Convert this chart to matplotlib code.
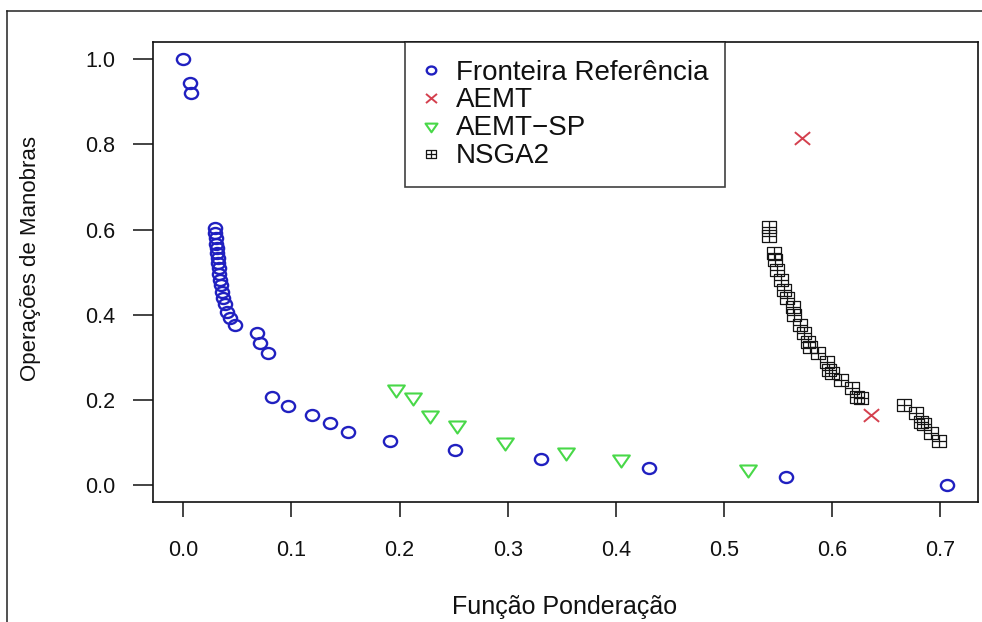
import matplotlib
matplotlib.use("Agg")
import matplotlib.pyplot as plt
from matplotlib.path import Path
from matplotlib.lines import Line2D

plt.rcParams["font.family"] = ["Liberation Sans", "DejaVu Sans"]

# ---- data -------------------------------------------------------------
ref_x = [0.0, 0.0061, 0.0070,
         0.0293, 0.0293, 0.0299, 0.0302, 0.0308, 0.0315, 0.0318, 0.0324,
         0.0330, 0.0333, 0.0339, 0.0345, 0.0361, 0.0370, 0.0385, 0.0401,
         0.0431, 0.0477,
         0.0678, 0.0708, 0.0786,
         0.0816, 0.0970, 0.1186, 0.1355, 0.1524, 0.1909, 0.2509, 0.3310,
         0.4310, 0.5575, 0.7065]
ref_y = [1.0, 0.944, 0.920,
         0.604, 0.591, 0.580, 0.565, 0.556, 0.544, 0.533, 0.521,
         0.509, 0.495, 0.482, 0.470, 0.454, 0.439, 0.424, 0.407,
         0.392, 0.376,
         0.356, 0.333, 0.311,
         0.206, 0.186, 0.164, 0.145, 0.125, 0.103, 0.082, 0.061,
         0.039, 0.0195, 0.0]

aemt_x = [0.5717, 0.6356]
aemt_y = [0.814, 0.164]

sp_x = [0.1970, 0.2125, 0.2278, 0.2534, 0.2970, 0.3540, 0.4048, 0.5218]
sp_y = [0.225, 0.206, 0.164, 0.142, 0.102, 0.078, 0.061, 0.037]

nsga_x = [0.5417, 0.5417, 0.5460, 0.5471, 0.5490, 0.5526, 0.5556, 0.5581,
          0.5633, 0.5648, 0.5703, 0.5740, 0.5772, 0.5796, 0.5864, 0.5950,
          0.5971, 0.6002, 0.6079, 0.6185, 0.6231, 0.6268,
          0.6664, 0.6772, 0.6818, 0.6849, 0.6910, 0.6987]
nsga_y = [0.607, 0.585, 0.544, 0.529, 0.505, 0.482, 0.458, 0.439,
          0.419, 0.399, 0.376, 0.356, 0.337, 0.325, 0.309, 0.290,
          0.270, 0.262, 0.247, 0.227, 0.207, 0.204,
          0.188, 0.168, 0.149, 0.143, 0.121, 0.104]

series_names = ["Fronteira Referência", "AEMT", "AEMT\u2212SP", "NSGA2"]
x_ticks = [0.0, 0.1, 0.2, 0.3, 0.4, 0.5, 0.6, 0.7]
y_ticks = [0.0, 0.2, 0.4, 0.6, 0.8, 1.0]
x_tick_labels = ["0.0", "0.1", "0.2", "0.3", "0.4", "0.5", "0.6", "0.7"]
y_tick_labels = ["0.0", "0.2", "0.4", "0.6", "0.8", "1.0"]

# ---- marker shapes (slightly wide, like the R symbols) -----------------
WIDE = 1.2


def widen(verts, codes=None):
    return Path([(x * WIDE, y) for x, y in verts], codes)


circle_path = Path(Path.unit_circle().vertices * [WIDE, 1.0],
                   Path.unit_circle().codes)
tri_down = widen([(-0.866, 0.5), (0.866, 0.5), (0.0, -1.0), (-0.866, 0.5)],
                 [Path.MOVETO, Path.LINETO, Path.LINETO, Path.CLOSEPOLY])
square_plus = widen([(-1, -1), (1, -1), (1, 1), (-1, 1), (-1, -1),
                     (-1, 0), (1, 0), (0, -1), (0, 1)],
                    [Path.MOVETO, Path.LINETO, Path.LINETO, Path.LINETO,
                     Path.CLOSEPOLY, Path.MOVETO, Path.LINETO,
                     Path.MOVETO, Path.LINETO])
cross = widen([(-1, -1), (1, 1), (-1, 1), (1, -1)],
              [Path.MOVETO, Path.LINETO, Path.MOVETO, Path.LINETO])

BLUE = "#2020c0"
RED = "#d4404e"
GREEN = "#48d848"
BLACK = "#151515"

styles = [
    dict(marker=circle_path, color=BLUE, ms=9.5, mew=1.7),
    dict(marker=cross, color=RED, ms=11, mew=1.4),
    dict(marker=tri_down, color=GREEN, ms=12, mew=1.5),
    dict(marker=square_plus, color=BLACK, ms=10.5, mew=0.9),
]

# ---- figure -----------------------------------------------------------
W, H = 982, 622
fig = plt.figure(figsize=(W / 100, H / 100), dpi=100)
ax = fig.add_axes([152.7 / W, 1 - 502 / H, (978 - 152.7) / W, (502 - 42.3) / H])

data = [(ref_x, ref_y), (aemt_x, aemt_y), (sp_x, sp_y), (nsga_x, nsga_y)]
for (xs, ys), st in zip(data, styles):
    ax.plot(xs, ys, linestyle="none", marker=st["marker"], ms=st["ms"],
            mec=st["color"], mfc="none", mew=st["mew"])

ax.set_xlim(-0.0283, 0.7348)
ax.set_ylim(-0.04, 1.04)

ax.set_xticks(x_ticks)
ax.set_xticklabels(x_tick_labels)
ax.set_yticks(y_ticks)
ax.set_yticklabels(y_tick_labels)
ax.tick_params(axis="x", direction="out", length=11, width=1.1,
               pad=16, labelsize=15.5, colors="#111111")
ax.tick_params(axis="y", direction="out", length=14.4, width=1.1,
               pad=12.5, labelsize=15.5, colors="#111111")
for sp in ax.spines.values():
    sp.set_linewidth(1.2)
    sp.set_color("#111111")

ax.set_xlabel("Função Ponderação", fontsize=18, color="#111111")
ax.set_ylabel("Operações de Manobras", fontsize=16, color="#111111")
ax.xaxis.set_label_coords(565 / W, 1 - 595 / H, transform=fig.transFigure)
ax.yaxis.set_label_coords(41 / W, 1 - 259 / H, transform=fig.transFigure)

handles = [Line2D([], [], linestyle="none", marker=st["marker"],
                  ms=st["ms"] * 0.72, mec=st["color"], mfc="none",
                  mew=st["mew"]) for st in styles]
leg = ax.legend(handles, series_names, loc="upper center",
                bbox_to_anchor=(0.5, 1.0), borderaxespad=0, frameon=True,
                fancybox=False, fontsize=20, handlelength=0.6,
                handletextpad=0.6, borderpad=0.62, labelspacing=0.07)
leg.get_frame().set_edgecolor("#111111")
leg.get_frame().set_linewidth(1.2)
for t in leg.get_texts():
    t.set_color("#111111")

# page frame around the chart
fig.add_artist(Line2D([6.5 / W, 6.5 / W], [0, 1 - 11 / H],
                      transform=fig.transFigure, color="#222222", lw=1.1))
fig.add_artist(Line2D([6.5 / W, 1], [1 - 11 / H, 1 - 11 / H],
                      transform=fig.transFigure, color="#222222", lw=1.1))

fig.savefig("out.png", dpi=100)
